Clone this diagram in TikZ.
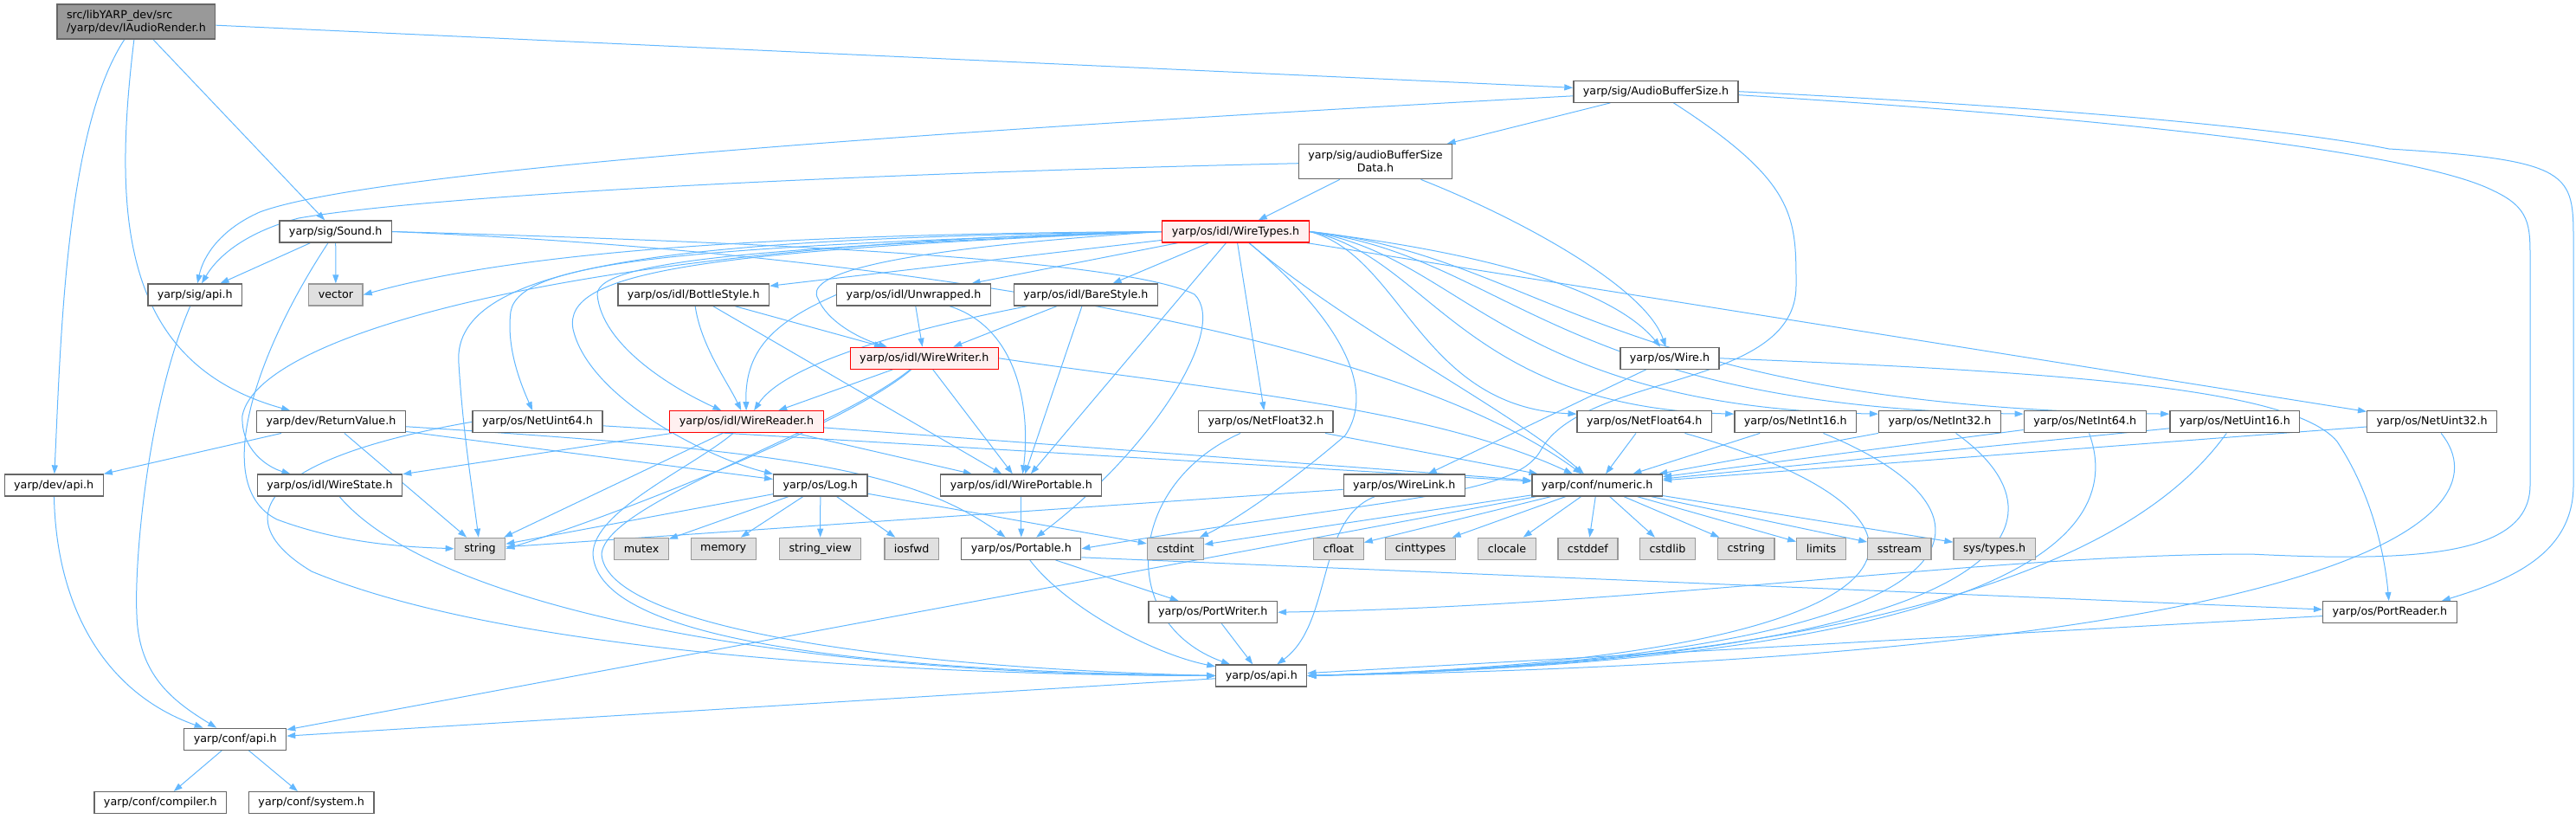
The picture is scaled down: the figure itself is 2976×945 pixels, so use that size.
\documentclass[tikz,border=0pt]{standalone}
\usepackage{fontspec}
\setmainfont{DejaVu Sans}
\usetikzlibrary{arrows.meta,backgrounds}

\definecolor{edgeblue}{HTML}{63B8FF}
\definecolor{boxgray}{HTML}{666666}
\definecolor{sysgray}{HTML}{999999}
\definecolor{sysfill}{HTML}{E0E0E0}
\definecolor{rootfill}{HTML}{999999}
\definecolor{redfill}{HTML}{FFF0F0}

\tikzset{
  file/.style={draw=boxgray, fill=white, line width=1.3pt, inner xsep=11pt,
    inner ysep=0pt, minimum height=25pt, font=\fontsize{12.7}{15}\selectfont},
  sysfile/.style={file, draw=sysgray, fill=sysfill},
  redfile/.style={file, draw=red, fill=redfill},
  rootfile/.style={file, draw=boxgray, fill=rootfill, align=left, minimum height=40pt},
  dep/.style={draw=edgeblue, line width=1pt, -{Triangle[length=10pt,width=7pt]}}
}

\begin{document}
\begin{tikzpicture}[x=1pt, y=-1pt]
  \useasboundingbox (0,0) rectangle (2976,945);

  % Upper headers
  \node[rootfile] (root) at (157.4,25) {src/libYARP\_dev/src\\/yarp/dev/IAudioRender.h};
  \node[file] (absize) at (1913,105.7) {yarp/sig/AudioBufferSize.h};
  \node[file, align=center, minimum height=40pt] (absdata) at (1589,186.7) {yarp/sig/audioBufferSize\\Data.h};
  \node[file] (sound) at (387.7,267.5) {yarp/sig/Sound.h};
  \node[redfile] (wiretypes) at (1427.5,267.5) {yarp/os/idl/WireTypes.h};

  \node[file] (sigapi) at (225.3,340.5) {yarp/sig/api.h};
  \node[sysfile] (vector) at (387.9,340.5) {vector};
  \node[file] (bottlestyle) at (801.2,340.5) {yarp/os/idl/BottleStyle.h};
  \node[file] (unwrapped) at (1055.6,340.5) {yarp/os/idl/Unwrapped.h};
  \node[file] (barestyle) at (1254.4,340.5) {yarp/os/idl/BareStyle.h};

  \node[redfile] (wirewriter) at (1067.8,413.8) {yarp/os/idl/WireWriter.h};
  \node[file] (wire) at (1929,413.8) {yarp/os/Wire.h};

  % Net types row
  \node[file] (returnvalue) at (382.5,487.3) {yarp/dev/ReturnValue.h};
  \node[file] (netuint64) at (621,487.3) {yarp/os/NetUint64.h};
  \node[redfile] (wirereader) at (862.5,487.3) {yarp/os/idl/WireReader.h};
  \foreach \nm/\xc/\txt in {netfloat32/1462.4/NetFloat32, netfloat64/1899.8/NetFloat64,
      netint16/2074.3/NetInt16, netint32/2241/NetInt32, netint64/2408.7/NetInt64,
      netuint16/2581.8/NetUint16, netuint32/2809.6/NetUint32} {
    \node[file] (\nm) at (\xc,487.3) {yarp/os/\txt.h};
  }

  \node[file] (devapi) at (62.2,560.5) {yarp/dev/api.h};
  \node[file] (wirestate) at (381,560.5) {yarp/os/idl/WireState.h};
  \node[file] (log) at (947.8,560.5) {yarp/os/Log.h};
  \node[file] (wireportable) at (1179.8,560.5) {yarp/os/idl/WirePortable.h};
  \node[file] (wirelink) at (1622.3,560.5) {yarp/os/WireLink.h};
  \node[file] (numeric) at (1845.2,560.5) {yarp/conf/numeric.h};

  % System headers row
  \foreach \nm/\xc/\txt in {string/554.5/string, mutex/741/mutex, memory/835.7/memory,
      stringview/947.6/{string\_view}, iosfwd/1053.2/iosfwd, cstdint/1358/cstdint,
      cfloat/1546.4/cfloat, cinttypes/1641/cinttypes, clocale/1741/clocale,
      cstddef/1834.4/cstddef, cstdlib/1926.5/cstdlib, cstring/2017.2/cstring,
      limits/2104/limits, sstream/2194.3/sstream, systypes/2304.1/{sys/types.h}} {
    \node[sysfile] (\nm) at (\xc,633.8) {\txt};
  }
  \node[file] (portable) at (1179.8,633.8) {yarp/os/Portable.h};

  % Lower headers
  \node[file] (portwriter) at (1401.3,707.2) {yarp/os/PortWriter.h};
  \node[file] (portreader) at (2760.9,707.2) {yarp/os/PortReader.h};
  \node[file] (osapi) at (1457.3,780.5) {yarp/os/api.h};
  \node[file] (confapi) at (271.7,853.8) {yarp/conf/api.h};
  \node[file] (compiler) at (185.3,927.2) {yarp/conf/compiler.h};
  \node[file] (system) at (359.7,927.2) {yarp/conf/system.h};

  \begin{scope}[on background layer]
  % IAudioRender.h
  \draw[dep] (root) -- (absize);
  \draw[dep] (root) -- (sound);
  \draw[dep] (root) .. controls (130,250) and (140,420) .. (returnvalue);
  \draw[dep] (root) .. controls (75,150) and (70,400) .. (devapi);

  % AudioBufferSize.h
  \draw[dep] (absize) -- (absdata);
  \draw[dep] (absize) .. controls (1000,155) and (420,200) .. (300,245)
    .. controls (255,265) and (235,295) .. (sigapi);
  \draw[dep] (absize) .. controls (2075,210) and (2075,250) .. (2075,330)
    .. controls (2075,450) and (1830,430) .. (1780,520)
    .. controls (1750,575) and (1600,575) .. (portable.east);
  \draw[dep] (absize.east) .. controls (2400,125) and (2650,150) .. (2760,172)
    .. controls (2973,185) and (2973,200) .. (2973,280) -- (2973,560)
    .. controls (2973,640) and (2900,670) .. ([xshift=-18pt]portreader.north east);
  \draw[dep] ([yshift=-4pt]absize.east) .. controls (2500,140) and (2800,180) .. (2880,220)
    .. controls (2923,240) and (2923,260) .. (2923,300) -- (2923,560)
    .. controls (2923,640) and (2800,650) .. (2600,640)
    .. controls (2300,640) and (1900,700) .. (portwriter.east);

  % audioBufferSizeData.h
  \draw[dep] (absdata) -- (wiretypes);
  \draw[dep] (absdata) .. controls (1000,200) and (500,225) .. (345,252)
    .. controls (285,268) and (252,295) .. (sigapi);
  \draw[dep] (absdata) .. controls (1750,250) and (1900,330) .. (wire);

  % Sound.h
  \draw[dep] (sound) -- (sigapi);
  \draw[dep] (sound) -- (vector);
  \draw[dep] (sound) .. controls (300,400) and (240,560) .. (320,600)
    .. controls (400,630) and (480,632) .. (string.west);
  \draw[dep] (sound.east) .. controls (900,280) and (1300,300) .. (1380,340)
    .. controls (1420,380) and (1330,520) .. (portable);
  \draw[dep] (sound.east) .. controls (1000,290) and (1600,380) .. (numeric);

  % WireTypes.h
  \draw[dep] (wiretypes.west) .. controls (900,270) and (600,290) .. (vector.east);
  \draw[dep] (wiretypes.west) .. controls (800,275) and (520,300) .. (530,420)
    .. controls (535,500) and (545,560) .. (string);
  \draw[dep] (wiretypes.west) .. controls (700,280) and (300,380) .. (280,480)
    .. controls (278,520) and (310,540) .. (wirestate);
  \draw[dep] (wiretypes.west) .. controls (800,285) and (600,300) .. (590,360)
    .. controls (585,400) and (600,440) .. (netuint64);
  \draw[dep] (wiretypes.west) .. controls (900,285) and (690,300) .. (690,340)
    .. controls (695,400) and (780,450) .. (wirereader);
  \draw[dep] (wiretypes.west) .. controls (800,290) and (650,315) .. (662,380)
    .. controls (680,460) and (820,530) .. (log);
  \draw[dep] (wiretypes) -- (bottlestyle);
  \draw[dep] (wiretypes) -- (unwrapped);
  \draw[dep] (wiretypes) -- (barestyle);
  \draw[dep] (wiretypes.west) .. controls (1000,290) and (930,320) .. (945,345)
    .. controls (955,370) and (990,390) .. (wirewriter);
  \draw[dep] (wiretypes) -- (wireportable);
  \draw[dep] (wiretypes) -- (netfloat32);
  \draw[dep] (wiretypes) .. controls (1550,370) and (1590,450) .. (1554,503)
    .. controls (1500,550) and (1430,600) .. (cstdint);
  \draw[dep] (wiretypes.east) .. controls (1700,290) and (1860,330) .. (wire);
  \draw[dep] (wiretypes) .. controls (1560,380) and (1740,470) .. (numeric);
  \foreach \t/\ca/\cb in {netfloat64/1620/1640, netint16/1650/1690, netint32/1690/1740,
      netint64/1740/1800, netuint16/1780/1860} {
    \draw[dep] (wiretypes.east) .. controls (\ca,295) and (\cb,470) .. ([yshift=-4pt]\t.north west);
  }
  \draw[dep] (wiretypes) -- (netuint32);

  % idl styles
  \foreach \s in {bottlestyle, unwrapped, barestyle} {
    \draw[dep] (\s) -- (wirewriter);
  }
  \draw[dep] (bottlestyle) .. controls (810,400) and (840,440) .. (wirereader);
  \draw[dep] (unwrapped.west) .. controls (900,370) and (860,400) .. (wirereader);
  \draw[dep] (barestyle) .. controls (1000,390) and (900,430) .. (wirereader);
  \draw[dep] (bottlestyle) -- (wireportable);
  \draw[dep] (unwrapped) .. controls (1180,380) and (1190,480) .. (wireportable);
  \draw[dep] (barestyle) -- (wireportable);

  % WireWriter.h and WireReader.h
  \draw[dep] (wirewriter) -- (wirereader);
  \draw[dep] (wirewriter) -- (wireportable);
  \draw[dep] (wirewriter.east) .. controls (1400,450) and (1650,470) .. (numeric);
  \draw[dep] (wirewriter) .. controls (980,490) and (700,600) .. (string.east);
  \draw[dep] (wirewriter) .. controls (960,500) and (700,580) .. (695,640)
    .. controls (700,720) and (1000,770) .. (osapi.west);
  \draw[dep] (wirereader) -- (wirestate);
  \draw[dep] (wirereader) -- (wireportable);
  \draw[dep] (wirereader) -- (numeric);
  \draw[dep] (wirereader) -- (string);
  \draw[dep] (wirereader) .. controls (800,540) and (685,590) .. (685,640)
    .. controls (690,740) and (1000,775) .. (osapi.west);

  % Wire.h
  \draw[dep] (wire) -- (wirelink);
  \draw[dep] (wire.east) .. controls (2400,430) and (2650,450) .. (2700,510)
    .. controls (2740,570) and (2755,640) .. (portreader);

  % ReturnValue.h
  \draw[dep] (returnvalue) -- (devapi);
  \draw[dep] (returnvalue) -- (string);
  \draw[dep] (returnvalue) -- (log);
  \draw[dep] (returnvalue) .. controls (900,520) and (1050,540) .. (portable);

  % Net types
  \draw[dep] (netuint64) -- (numeric);
  \draw[dep] (netuint64.west) .. controls (300,530) and (260,600) .. (360,660)
    .. controls (600,760) and (1100,780) .. (osapi.west);
  \draw[dep] (netfloat32) -- (numeric);
  \draw[dep] (netfloat32) .. controls (1300,560) and (1290,720) .. (osapi);
  \foreach \t in {netfloat64, netint16, netint32, netint64, netuint16, netuint32} {
    \draw[dep] (\t) -- (numeric);
  }
  \foreach \t/\ca/\cb in {netfloat64/2300/2250, netint16/2350/2300, netint32/2400/2350,
      netint64/2450/2380, netuint16/2500/2300, netuint32/2900/2700} {
    \draw[dep] (\t) .. controls (\ca,600) and (\cb,760) .. (osapi.east);
  }

  % WireState.h, Log.h, WireLink.h
  \draw[dep] (wirestate) .. controls (500,700) and (900,780) .. (osapi.west);
  \foreach \t in {string, mutex, memory, stringview, iosfwd, cstdint} {
    \draw[dep] (log) -- (\t);
  }
  \draw[dep] (wirelink) -- (string);
  \draw[dep] (wirelink) .. controls (1520,600) and (1540,720) .. (osapi);

  % numeric.h
  \foreach \t in {cstdint, cfloat, cinttypes, clocale, cstddef, cstdlib, cstring,
      limits, sstream, systypes} {
    \draw[dep] (numeric) -- (\t);
  }
  \draw[dep] (numeric) -- (confapi);

  % Portable.h and ports
  \draw[dep] (wireportable) -- (portable);
  \draw[dep] (portable) -- (portwriter);
  \draw[dep] ([yshift=-10pt]portable.east) -- (portreader);
  \draw[dep] (portable) .. controls (1230,700) and (1330,755) .. (osapi);
  \draw[dep] (portwriter) -- (osapi);
  \draw[dep] (portreader) -- (osapi);

  % conf
  \draw[dep] (osapi) -- (confapi);
  \draw[dep] (sigapi) .. controls (170,470) and (155,650) .. (158,710)
    .. controls (160,780) and (200,810) .. (confapi);
  \draw[dep] (devapi) .. controls (65,700) and (120,800) .. (confapi);
  \draw[dep] (confapi) -- (compiler);
  \draw[dep] (confapi) -- (system);
  \end{scope}
\end{tikzpicture}
\end{document}
